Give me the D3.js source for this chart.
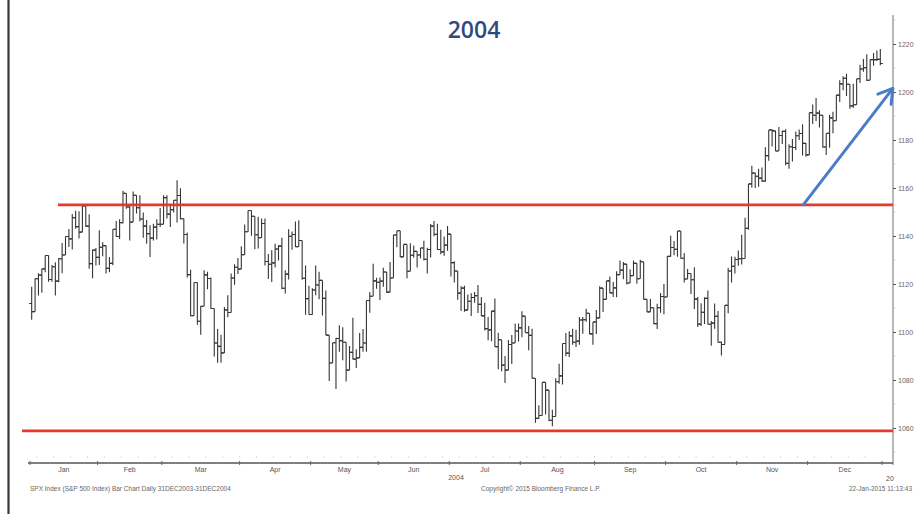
<!DOCTYPE html>
<html>
<head>
<meta charset="utf-8">
<script src="https://cdn.jsdelivr.net/npm/d3@7/dist/d3.min.js"></script>
<style>
  html, body { margin: 0; padding: 0; background: #fff; }
  svg { display: block; }
</style>
</head>
<body>
<svg id="chart" width="920" height="514"></svg>
<script>
// S&P 500 daily bars, 2004 (one entry per trading day)
const monthLabels = ["Jan","Feb","Mar","Apr","May","Jun","Jul","Aug","Sep","Oct","Nov","Dec"];
const tradingDays = [20,19,23,21,20,21,21,22,21,21,21,22];

const opens = [
  // Jan
  1111.9,1108.5,1122.2,1123.7,1126.3,1131.9,1121.9,1127.2,1121.2,1130.5,1132.1,1139.8,1138.8,1147.6,1143.9,1141.6,1152.5,1144.1,1128.5,1134.1,
  // Feb
  1131.1,1135.3,1136.0,1126.5,1128.6,1142.8,1139.8,1145.5,1157.8,1152.1,1145.8,1157.0,1151.8,1147.1,1144.1,1141.0,1139.1,1143.7,1144.9,
  // Mar
  1144.9,1156.0,1149.1,1151.0,1154.9,1156.9,1147.2,1140.6,1123.9,1106.8,1120.6,1104.5,1110.7,1123.8,1122.3,1109.8,1095.4,1094.0,1091.3,1109.2,1108.1,1122.5,1127.0,
  // Apr
  1126.2,1132.2,1141.8,1150.6,1148.2,1140.5,1139.3,1145.2,1129.4,1128.2,1128.8,1134.6,1135.8,1118.2,1124.1,1139.9,1140.6,1135.5,1138.1,1122.4,1113.9,
  // May
  1107.3,1117.5,1119.6,1121.5,1114.0,1098.7,1087.1,1095.5,1097.3,1096.4,1095.7,1084.1,1091.5,1088.7,1089.2,1093.6,1095.4,1113.1,1114.9,1121.3,
  // Jun
  1120.7,1121.2,1125.0,1116.6,1122.5,1140.4,1142.2,1131.3,1136.5,1125.3,1132.0,1133.6,1132.1,1135.0,1130.3,1134.4,1144.1,1140.7,1134.4,1133.4,1136.2,
  // Jul
  1140.8,1128.9,1125.4,1116.2,1118.3,1109.1,1112.8,1114.4,1115.1,1111.5,1106.7,1101.4,1100.9,1108.7,1093.9,1096.8,1086.2,1084.1,1094.8,1095.4,1100.4,
  // Aug
  1101.7,1106.6,1099.7,1098.6,1080.7,1064.0,1065.2,1079.0,1075.8,1063.2,1064.8,1079.3,1081.7,1095.2,1091.2,1098.4,1095.7,1096.2,1105.0,1105.1,1107.8,1099.2,
  // Sep
  1104.2,1105.9,1118.3,1113.6,1121.3,1116.3,1118.4,1123.9,1125.8,1128.3,1120.4,1123.5,1128.6,1122.2,1129.3,1113.6,1108.4,1110.1,1103.5,1110.1,1114.8,
  // Oct
  1114.6,1131.5,1135.2,1134.5,1142.1,1130.7,1122.1,1124.4,1121.8,1113.7,1103.3,1108.2,1114.0,1103.2,1103.7,1106.5,1095.7,1094.8,1111.1,1125.4,1127.4,
  // Nov
  1130.2,1130.5,1130.6,1143.2,1161.7,1166.2,1164.9,1164.1,1162.9,1173.5,1184.2,1183.8,1175.4,1181.9,1183.6,1170.3,1177.2,1176.9,1181.8,1182.7,1178.6,
  // Dec
  1173.8,1191.4,1190.3,1191.2,1190.3,1177.1,1182.8,1189.2,1188.0,1198.7,1203.4,1205.7,1203.2,1194.2,1194.7,1205.5,1209.6,1210.1,1204.9,1213.5,1213.5,1213.6
];

const highs = [
  1118.9,1122.4,1124.5,1126.4,1131.9,1131.9,1127.9,1129.1,1130.8,1137.1,1139.8,1142.9,1149.2,1150.5,1150.3,1153.0,1152.5,1149.1,1134.4,1135.0,
  1142.4,1137.4,1136.0,1131.2,1142.8,1146.2,1147.0,1158.9,1157.8,1153.2,1158.5,1157.0,1157.0,1149.8,1146.7,1144.5,1145.1,1147.0,1151.7,
  1157.0,1157.0,1153.0,1155.0,1163.2,1159.9,1147.3,1141.5,1125.9,1120.6,1120.6,1110.9,1125.7,1125.1,1122.7,1109.8,1101.3,1098.9,1110.4,1115.3,1124.4,1128.2,1130.8,
  1135.7,1144.8,1150.6,1150.6,1148.2,1148.0,1147.3,1147.3,1132.5,1134.1,1136.8,1136.2,1139.3,1125.7,1142.8,1141.9,1146.0,1146.6,1138.1,1127.7,1119.3,
  1118.2,1127.7,1125.1,1121.5,1117.3,1098.7,1095.5,1097.6,1102.8,1102.0,1095.7,1094.2,1105.9,1092.8,1099.6,1101.3,1113.1,1116.7,1128.4,1122.6,
  1122.7,1126.8,1125.0,1129.2,1140.5,1142.2,1142.2,1136.5,1136.5,1137.0,1136.0,1133.6,1135.1,1138.0,1135.1,1145.0,1146.3,1145.1,1142.6,1139.8,1144.2,
  1140.8,1129.5,1125.4,1119.1,1119.3,1115.6,1116.1,1116.7,1119.6,1114.6,1112.2,1106.3,1108.9,1114.0,1099.7,1096.8,1090.0,1096.7,1098.8,1103.5,1103.5,
  1108.6,1106.6,1102.5,1101.4,1080.7,1069.5,1079.0,1079.0,1075.8,1067.6,1080.7,1086.8,1095.2,1099.6,1100.3,1101.4,1100.9,1106.3,1106.3,1109.7,1107.8,1104.2,
  1109.2,1119.1,1118.3,1121.3,1123.1,1120.8,1125.3,1129.8,1129.2,1128.3,1126.1,1129.8,1128.6,1130.1,1129.3,1113.6,1113.8,1110.1,1111.8,1116.3,1120.0,
  1131.6,1140.1,1137.9,1142.1,1142.1,1132.9,1126.2,1124.4,1127.0,1114.6,1112.0,1114.5,1117.3,1104.6,1111.9,1108.7,1096.0,1111.1,1126.8,1131.5,1131.4,
  1134.0,1140.5,1147.6,1161.7,1169.3,1166.5,1168.0,1168.5,1177.0,1184.2,1184.5,1184.0,1185.4,1184.0,1184.5,1178.2,1180.4,1183.5,1184.4,1186.6,1178.7,
  1191.4,1194.8,1197.5,1192.4,1190.3,1182.8,1190.5,1191.8,1198.7,1204.9,1206.6,1207.6,1203.2,1203.4,1205.5,1211.4,1213.7,1215.7,1213.5,1216.2,1217.3,1217.9
];

const lows = [
  1105.1,1108.5,1115.2,1116.4,1124.9,1120.9,1120.9,1115.2,1120.7,1124.5,1132.1,1135.4,1134.4,1143.0,1139.0,1141.6,1143.8,1126.4,1122.4,1127.7,
  1127.9,1131.6,1124.4,1124.9,1127.8,1139.6,1138.7,1145.2,1151.4,1138.1,1145.8,1149.4,1146.1,1139.3,1136.8,1131.2,1138.1,1138.5,1143.8,
  1144.9,1147.3,1143.8,1149.8,1145.6,1146.9,1136.9,1122.7,1106.6,1106.8,1103.0,1098.9,1110.7,1117.8,1109.7,1089.8,1087.2,1087.2,1091.3,1106.1,1108.1,1119.7,1124.2,
  1126.2,1132.2,1141.7,1140.1,1134.5,1134.8,1139.3,1127.7,1122.1,1120.8,1126.9,1129.8,1117.8,1116.0,1121.9,1134.3,1135.4,1135.5,1121.8,1107.2,1107.2,
  1107.2,1115.3,1113.6,1106.9,1098.6,1079.6,1087.1,1076.3,1091.8,1088.2,1079.4,1084.1,1088.5,1085.0,1089.2,1091.8,1091.8,1108.0,1114.9,1118.0,
  1113.3,1118.9,1116.3,1116.6,1122.5,1135.3,1131.2,1131.3,1122.4,1125.3,1130.9,1126.9,1130.6,1129.8,1124.4,1131.0,1139.9,1134.2,1132.4,1131.8,1133.9,
  1123.1,1120.6,1113.4,1108.7,1108.4,1109.1,1106.7,1112.2,1107.9,1106.6,1100.6,1096.6,1096.1,1093.9,1084.5,1083.6,1078.8,1084.1,1086.7,1095.4,1096.0,
  1097.8,1099.7,1092.4,1080.5,1062.2,1063.9,1065.2,1065.6,1062.8,1060.7,1064.8,1078.4,1078.1,1089.9,1089.6,1094.7,1093.8,1094.7,1099.3,1104.3,1099.1,1094.7,
  1099.2,1105.6,1108.3,1113.6,1116.1,1114.6,1114.5,1123.9,1122.0,1119.8,1120.4,1123.4,1120.1,1122.2,1113.5,1108.2,1108.4,1103.2,1101.3,1108.0,1107.4,
  1114.6,1131.5,1132.0,1131.4,1130.5,1120.6,1122.0,1115.8,1109.6,1102.1,1102.5,1103.3,1103.1,1094.3,1101.4,1095.5,1090.2,1094.8,1107.8,1120.6,1124.4,
  1127.6,1128.1,1130.6,1142.6,1160.1,1160.0,1160.5,1162.5,1162.5,1171.4,1177.3,1175.3,1175.4,1178.3,1169.5,1168.0,1171.0,1175.8,1180.0,1173.5,1173.0,
  1173.8,1186.7,1187.9,1185.2,1176.8,1173.8,1176.8,1182.8,1188.0,1195.8,1200.7,1198.3,1193.0,1193.3,1194.7,1203.8,1208.4,1204.6,1204.9,1210.9,1212.9,1211.1
];

const closes = [
  1108.5,1122.2,1123.7,1126.3,1131.9,1121.9,1127.2,1121.2,1130.5,1132.1,1139.8,1138.8,1147.6,1143.9,1141.6,1152.5,1144.1,1128.5,1134.1,1131.1,
  1135.3,1136.0,1126.5,1128.6,1142.8,1139.8,1145.5,1157.8,1152.1,1145.8,1157.0,1151.8,1147.1,1144.1,1141.0,1139.1,1143.7,1144.9,1144.9,
  1156.0,1149.1,1151.0,1154.9,1156.9,1147.2,1140.6,1123.9,1106.8,1120.6,1104.5,1110.7,1123.8,1122.3,1109.8,1095.4,1094.0,1091.3,1109.2,1108.1,1122.5,1127.0,1126.2,
  1132.2,1141.8,1150.6,1148.2,1140.5,1139.3,1145.2,1129.4,1128.2,1128.8,1134.6,1135.8,1118.2,1124.1,1139.9,1140.6,1135.5,1138.1,1122.4,1113.9,1107.3,
  1117.5,1119.6,1121.5,1114.0,1098.7,1087.1,1095.5,1097.3,1096.4,1095.7,1084.1,1091.5,1088.7,1089.2,1093.6,1095.4,1113.1,1114.9,1121.3,1120.7,
  1121.2,1125.0,1116.6,1122.5,1140.4,1142.2,1131.3,1136.5,1125.3,1132.0,1133.6,1132.1,1135.0,1130.3,1134.4,1144.1,1140.7,1134.4,1133.4,1136.2,1140.8,
  1128.9,1125.4,1116.2,1118.3,1109.1,1112.8,1114.4,1115.1,1111.5,1106.7,1101.4,1100.9,1108.7,1093.9,1096.8,1086.2,1084.1,1094.8,1095.4,1100.4,1101.7,
  1106.6,1099.7,1098.6,1080.7,1064.0,1065.2,1079.0,1075.8,1063.2,1064.8,1079.3,1081.7,1095.2,1091.2,1098.4,1095.7,1096.2,1105.0,1105.1,1107.8,1099.2,1104.2,
  1105.9,1118.3,1113.6,1121.3,1116.3,1118.4,1123.9,1125.8,1128.3,1120.4,1123.5,1128.6,1122.2,1129.3,1113.6,1108.4,1110.1,1103.5,1110.1,1114.8,1114.6,
  1131.5,1135.2,1134.5,1142.1,1130.7,1122.1,1124.4,1121.8,1113.7,1103.3,1108.2,1114.0,1103.2,1103.7,1106.5,1095.7,1094.8,1111.1,1125.4,1127.4,1130.2,
  1130.5,1130.6,1143.2,1161.7,1166.2,1164.9,1164.1,1162.9,1173.5,1184.2,1183.8,1175.4,1181.9,1183.6,1170.3,1177.2,1176.9,1181.8,1182.7,1178.6,1173.8,
  1191.4,1190.3,1191.2,1190.3,1177.1,1182.8,1189.2,1188.0,1198.7,1203.4,1205.7,1203.2,1194.2,1194.7,1205.5,1209.6,1210.1,1204.9,1213.5,1213.5,1213.6,1211.9
];

const yTickValues = [1060,1080,1100,1120,1140,1160,1180,1200,1220];
const resistanceLevel = 1153;
const supportLevel = 1058.8;
// trend arrow: [trading-day position, price] at tail and head
const trendArrow = [[228.7, 1153], [255.2, 1201.5]];

const titleText = "2004";
const footerLeft = "SPX Index (S&P 500 Index) Bar Chart Daily 31DEC2003-31DEC2004";
const footerMid = "Copyright\u00A9 2015 Bloomberg Finance L.P.";
const footerRight = "22-Jan-2015 11:13:43";

// ---------------------------------------------------------------------------
const svg = d3.select("#chart");
const nDays = closes.length;

const x = d3.scaleLinear().domain([0, 252]).range([30, 882]);
const y = d3.scaleLinear().domain([1060, 1220]).range([428, 44]);

// slide frame edge on the left
svg.append("line")
  .attr("x1", 8.5).attr("x2", 8.5).attr("y1", 0).attr("y2", 514)
  .attr("stroke", "#3a3a3a").attr("stroke-width", 2.2);

// title
svg.append("text")
  .attr("x", 474).attr("y", 38)
  .attr("text-anchor", "middle")
  .attr("font-family", "'Open Sans', 'Noto Sans', sans-serif")
  .attr("font-size", 23).attr("font-weight", 600)
  .attr("fill", "#2f4a7c")
  .text(titleText);

// right price axis
const axisX = 893;
svg.append("line")
  .attr("x1", axisX).attr("x2", axisX).attr("y1", 15).attr("y2", 465)
  .attr("stroke", "#a0a0a0").attr("stroke-width", 1.5);

const yAxis = d3.axisRight(y)
  .tickValues(yTickValues)
  .tickSize(3).tickPadding(2)
  .tickFormat(d3.format("d"));
const yG = svg.append("g").attr("transform", `translate(${axisX},0)`).call(yAxis);
yG.select(".domain").remove();
yG.selectAll(".tick line").attr("stroke", "#555");
yG.selectAll(".tick text")
  .attr("font-family", "'Liberation Sans', Arial, sans-serif")
  .attr("font-size", 7).attr("fill", "#666");

// minor price ticks halfway between labels
const minorY = d3.range(1050, 1231, 10).filter(v => !yTickValues.includes(v));
svg.append("g").selectAll("line").data(minorY).join("line")
  .attr("x1", axisX).attr("x2", axisX + 2)
  .attr("y1", d => y(d)).attr("y2", d => y(d))
  .attr("stroke", "#bbb").attr("stroke-width", 1);

// bottom time axis
const axisY = 463;
svg.append("line")
  .attr("x1", 28).attr("x2", axisX).attr("y1", axisY).attr("y2", axisY)
  .attr("stroke", "#555").attr("stroke-width", 1.3);

const monthStarts = [0];
tradingDays.forEach(n => monthStarts.push(monthStarts[monthStarts.length - 1] + n));

svg.append("g").selectAll("line").data(monthStarts).join("line")
  .attr("x1", d => x(d)).attr("x2", d => x(d))
  .attr("y1", axisY - 2).attr("y2", axisY + 2)
  .attr("stroke", "#666").attr("stroke-width", 1);

// faint weekly marks above the time axis
const weekMarks = d3.range(2, 252, 5);
svg.append("g").selectAll("line").data(weekMarks).join("line")
  .attr("x1", d => x(d)).attr("x2", d => x(d))
  .attr("y1", axisY - 7).attr("y2", axisY - 5)
  .attr("stroke", "#ddd").attr("stroke-width", 1);

svg.append("g").selectAll("text").data(monthLabels).join("text")
  .attr("x", (d, i) => x((monthStarts[i] + monthStarts[i + 1]) / 2))
  .attr("y", 472)
  .attr("text-anchor", "middle")
  .attr("font-family", "'Liberation Sans', Arial, sans-serif")
  .attr("font-size", 7).attr("fill", "#555")
  .text(d => d);

svg.append("text")
  .attr("x", x(126)).attr("y", 480)
  .attr("text-anchor", "middle")
  .attr("font-family", "'Liberation Sans', Arial, sans-serif")
  .attr("font-size", 7).attr("fill", "#555")
  .text("2004");

svg.append("text")
  .attr("x", x(252) + 4).attr("y", 481)
  .attr("font-family", "'Liberation Sans', Arial, sans-serif")
  .attr("font-size", 7).attr("fill", "#555")
  .text("20");

// footer notes
const footer = svg.append("g")
  .attr("font-family", "'Liberation Sans', Arial, sans-serif")
  .attr("font-size", 6.5).attr("fill", "#666");
footer.append("text").attr("x", 30).attr("y", 491).text(footerLeft);
footer.append("text").attr("x", 481).attr("y", 491).text(footerMid);
footer.append("text").attr("x", 912).attr("y", 491).attr("text-anchor", "end").text(footerRight);

// OHLC bars
const bars = d3.range(nDays).map(i => ({
  i, o: opens[i], h: highs[i], l: lows[i], c: closes[i]
}));
const barG = svg.append("g")
  .attr("stroke", "#353535").attr("stroke-width", 1.1).attr("fill", "none");
const cx = d => x(d.i + 0.5);
barG.selectAll("path").data(bars).join("path")
  .attr("d", d => {
    const top = y(Math.max(d.h, d.o, d.c));
    const bot = y(Math.min(d.l, d.o, d.c));
    const xc = cx(d);
    return `M${xc},${top}V${bot}` +
           `M${xc - 2.5},${y(d.o)}H${xc}` +
           `M${xc},${y(d.c)}H${xc + 2.5}`;
  });

// horizontal resistance / support lines
svg.append("line")
  .attr("x1", 58).attr("x2", axisX).attr("y1", y(resistanceLevel)).attr("y2", y(resistanceLevel))
  .attr("stroke", "#e8382a").attr("stroke-width", 2.8);
svg.append("line")
  .attr("x1", 22).attr("x2", axisX).attr("y1", y(supportLevel)).attr("y2", y(supportLevel))
  .attr("stroke", "#e8382a").attr("stroke-width", 2.8);

// trend arrow
const [tail, head] = trendArrow.map(([t, v]) => [x(t), y(v)]);
svg.append("line")
  .attr("x1", tail[0]).attr("y1", tail[1]).attr("x2", head[0]).attr("y2", head[1])
  .attr("stroke", "#4a7cc9").attr("stroke-width", 3).attr("stroke-linecap", "round");
const ang = Math.atan2(head[1] - tail[1], head[0] - tail[0]);
const headLen = 16, spread = 0.55;
const p1 = [head[0] - headLen * Math.cos(ang - spread), head[1] - headLen * Math.sin(ang - spread)];
const p2 = [head[0] - headLen * Math.cos(ang + spread), head[1] - headLen * Math.sin(ang + spread)];
svg.append("path")
  .attr("d", `M${p1[0]},${p1[1]}L${head[0]},${head[1]}L${p2[0]},${p2[1]}`)
  .attr("fill", "none").attr("stroke", "#4a7cc9").attr("stroke-width", 3)
  .attr("stroke-linecap", "round").attr("stroke-linejoin", "round");
</script>
</body>
</html>
